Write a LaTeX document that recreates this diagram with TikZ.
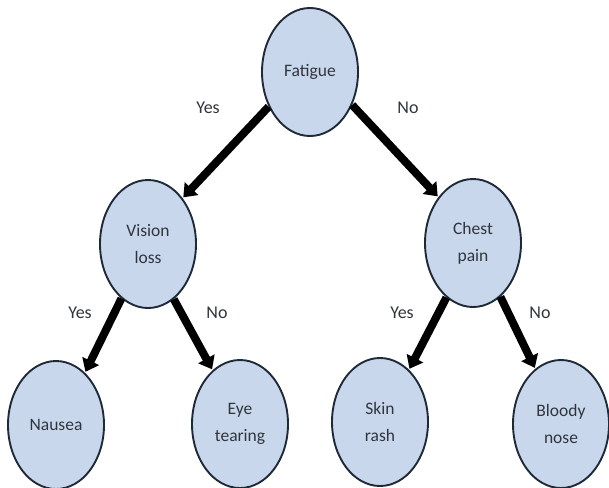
\documentclass[tikz,border=0pt]{standalone}
\usepackage{fontspec}
\setmainfont{Carlito}
\usetikzlibrary{shapes.geometric,arrows.meta}
\definecolor{nodefill}{HTML}{C9D7EC}
\definecolor{nodeedge}{HTML}{1E2A38}
\definecolor{txt}{HTML}{30353D}
\tikzset{
  circ/.style={ellipse, draw=nodeedge, line width=1.9pt, fill=nodefill,
    minimum width=96pt, minimum height=128pt, inner sep=0pt,
    align=center, text=txt, font=\fontsize{17.5}{27}\selectfont},
  lbl/.style={text=txt, font=\fontsize{18}{20}\selectfont, inner sep=0pt},
  arr/.style={line width=8pt, black, -{Triangle[length=12pt,width=18pt]}, shorten >=1pt}
}
\begin{document}
\begin{tikzpicture}[x=1pt,y=-1pt]
\useasboundingbox (0,0) rectangle (609,487);
\node[circ] (fat) at (310,72) {Fatigue};
\node[circ] (vis) at (148,244) {Vision\\loss};
\node[circ] (chest) at (473,243) {Chest\\pain};
\node[circ] (naus) at (56,425) {Nausea};
\node[circ] (eye) at (240,424) {Eye\\tearing};
\node[circ] (skin) at (380,422) {Skin\\rash};
\node[circ] (blood) at (561,424) {Bloody\\nose};
\node[lbl] (l1) at (208,108) {Yes};
\node[lbl] (l2) at (408,108) {No};
\node[lbl] (l3) at (80,313) {Yes};
\node[lbl] (l4) at (217,313) {No};
\node[lbl] (l5) at (402,313) {Yes};
\node[lbl] (l6) at (540,313) {No};
\draw[arr] (fat.220) -- (vis.53);
\draw[arr] (fat.322) -- (chest.127);
\draw[arr] (vis.244) -- (naus.61);
\draw[arr] (vis.295) -- (eye.117);
\draw[arr] (chest.244) -- (skin.61);
\draw[arr] (chest.297) -- (blood.115);
\end{tikzpicture}
\end{document}
